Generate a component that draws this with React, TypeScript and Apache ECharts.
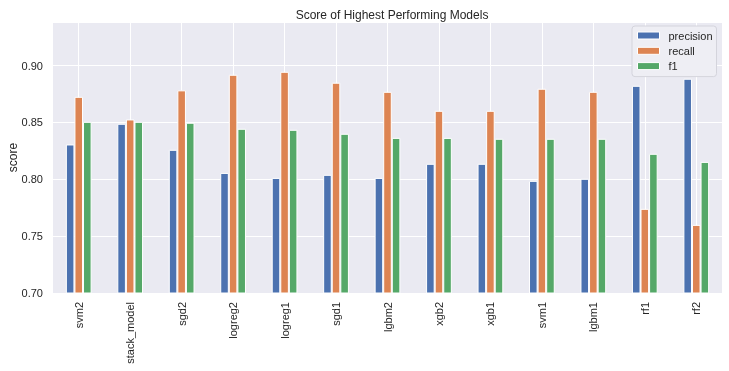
import React, { useEffect, useRef } from "react";
import * as echarts from "echarts";

const categories = ["svm2", "stack_model", "sgd2", "logreg2", "logreg1", "sgd1", "lgbm2", "xgb2", "xgb1", "svm1", "lgbm1", "rf1", "rf2"];
const precision = [0.8306, 0.8488, 0.8259, 0.8056, 0.8012, 0.8039, 0.8012, 0.8136, 0.8136, 0.7986, 0.8004, 0.8822, 0.8884];
const recall = [0.8725, 0.8526, 0.8782, 0.8919, 0.8945, 0.8849, 0.8769, 0.8602, 0.8602, 0.8796, 0.8769, 0.7740, 0.7599];
const f1 = [0.8505, 0.8505, 0.8497, 0.8444, 0.8435, 0.8400, 0.8364, 0.8364, 0.8356, 0.8356, 0.8356, 0.8224, 0.8153];
const seriesNames = ["precision", "recall", "f1"];
const colors = ["#4C72B0", "#DD8452", "#55A868"];

const FONT = "'Liberation Sans', Arial, sans-serif";
const TXT = "#262626";

export default function App() {
  const ref = useRef<HTMLDivElement>(null);
  useEffect(() => {
    if (!ref.current) return;
    const chart = echarts.init(ref.current, undefined, { renderer: "svg" });
    const gridCats = Array.from({ length: categories.length * 2 }, (_, i) => String(i));
    const data = [precision, recall, f1];
    chart.setOption({
      animation: false,
      textStyle: { fontFamily: FONT, color: TXT },
      title: {
        text: "Score of Highest Performing Models",
        left: 387,
        top: 4,
        textAlign: "center",
        textStyle: { fontFamily: FONT, fontSize: 12, fontWeight: "normal", color: TXT },
      },
      legend: {
        orient: "vertical",
        left: 632,
        top: 26,
        padding: [3, 4, 4, 5],
        itemWidth: 22,
        itemHeight: 7,
        itemGap: 2.3,
        backgroundColor: "#EEEEF4",
        borderColor: "#D4D4DC",
        borderWidth: 1,
        borderRadius: 3,
        icon: "rect",
        itemStyle: { borderColor: "#ffffff", borderWidth: 1 },
        textStyle: { fontFamily: FONT, fontSize: 11, color: TXT, lineHeight: 13, padding: [0, 0, 0, 4] },
        data: seriesNames,
      },
      grid: {
        left: 53,
        right: 7,
        top: 22,
        bottom: 78,
        show: true,
        backgroundColor: "#EAEAF2",
        borderWidth: 0,
        containLabel: false,
        outerBoundsMode: "none",
      },
      xAxis: [
        {
          type: "category",
          data: categories,
          axisLine: { show: false },
          axisTick: { show: false },
          splitLine: { show: false },
          axisLabel: { rotate: 90, fontFamily: FONT, fontSize: 11, color: TXT, margin: 9 },
        },
        {
          type: "category",
          data: gridCats,
          position: "bottom",
          axisLine: { show: false },
          axisTick: { show: false },
          axisLabel: { show: false },
          splitLine: {
            show: true,
            interval: (index: number) => index % 2 === 1,
            lineStyle: { color: "#ffffff", width: 1 },
          },
        },
      ],
      yAxis: {
        type: "value",
        min: 0.7,
        max: 0.9383,
        interval: 0.05,
        name: "score",
        nameLocation: "middle",
        nameGap: 34,
        nameMoveOverlap: false,
        nameTextStyle: { fontFamily: FONT, fontSize: 12, color: TXT },
        axisLine: { show: false },
        axisTick: { show: false },
        axisLabel: {
          showMaxLabel: false,
          fontFamily: FONT,
          fontSize: 11,
          color: TXT,
          margin: 10,
          formatter: (v: number) => v.toFixed(2),
        },
        splitLine: { show: true, lineStyle: { color: "#ffffff", width: 1 } },
      },
      series: seriesNames.map((name, i) => ({
        name,
        type: "bar",
        xAxisIndex: 0,
        data: data[i],
        barWidth: "16.67%",
        barGap: "0%",
        itemStyle: { color: colors[i], borderColor: "#ffffff", borderWidth: 1 },
        z: 3,
      })),
    });
    return () => chart.dispose();
  }, []);
  return <div ref={ref} style={{ position: "fixed", left: 0, top: 0, width: 729, height: 371 }} />;
}
